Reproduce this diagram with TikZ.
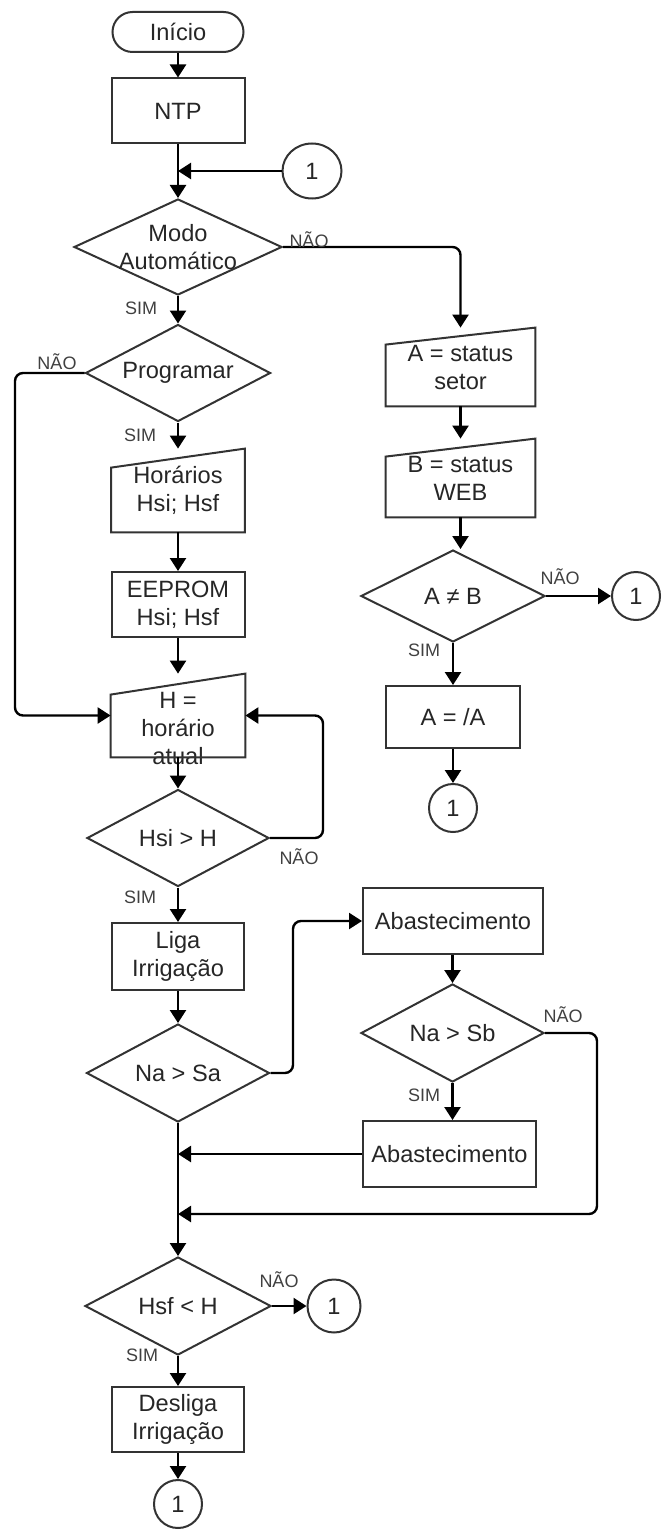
\documentclass[tikz,border=0pt]{standalone}
\usepackage{fontspec}
\setmainfont{Liberation Sans}
\usetikzlibrary{shapes.geometric,arrows.meta}
\newcommand\manualin[2]{\draw[shapeline] (#1.south west) -- (#1.south east) -- (#1.north east) -- ([yshift=-#2]#1.north west) -- cycle;}
\begin{document}
\begin{tikzpicture}[x=0.5pt,y=-0.5pt,
  txt/.style={font=\fontsize{11.8}{14}\selectfont, text=black!85, align=center},
  shapeline/.style={draw=black!80, line width=1pt},
  box/.style={shapeline, rectangle, inner sep=0pt, txt},
  mbox/.style={rectangle, inner sep=0pt, txt},
  dia/.style={shapeline, diamond, inner sep=0pt},
  conn_c/.style={ellipse, shapeline, inner sep=0pt, txt},
  lab/.style={font=\fontsize{9}{10}\selectfont, text=black!75, inner sep=0pt},
  conn/.style={line width=1.2pt, black, rounded corners=4pt, -{Triangle[length=6.5pt,width=8pt]}},
]
\useasboundingbox (0,0) rectangle (661,1530);
% left column
\node[box, rounded corners=10pt, minimum width=65.5pt, minimum height=20pt] (inicio) at (178,32) {Início};
\node[box, minimum width=66.5pt, minimum height=32.5pt] (ntp) at (178,111) {NTP};
\node[conn_c, minimum width=29.5pt, minimum height=27.5pt] (c1) at (312,171) {1};
\node[dia, minimum width=104pt, minimum height=48pt, label={[txt]center:Modo\\Automático}] (modo) at (178,247) {};
\node[dia, minimum width=92.5pt, minimum height=48.5pt, label={[txt]center:Programar}] (prog) at (178,373) {};
\node[mbox, minimum width=66.5pt, minimum height=41.5pt] (hor) at (178,490.5) {Horários\\Hsi; Hsf};
\manualin{hor}{9.5pt}
\node[box, minimum width=66.5pt, minimum height=32.5pt] (eep) at (178,604.5) {EEPROM\\Hsi; Hsf};
\node[mbox, minimum width=67pt, minimum height=41.5pt, label={[txt, yshift=-6.5pt]center:H =\\horário\\atual}] (hh) at (178,715.5) {};
\manualin{hh}{10.5pt}
\node[dia, minimum width=91pt, minimum height=48.5pt, label={[txt]center:Hsi > H}] (hsi) at (178,838) {};
\node[box, minimum width=66pt, minimum height=33.5pt] (liga) at (178,956.5) {Liga\\Irrigação};
\node[dia, minimum width=91.5pt, minimum height=49pt, label={[txt]center:Na > Sa}] (nasa) at (178,1073) {};
\node[dia, minimum width=93pt, minimum height=49pt, label={[txt]center:Hsf < H}] (hsf) at (178,1306) {};
\node[conn_c, minimum width=26.5pt, minimum height=26.5pt] (c2) at (334,1306) {1};
\node[box, minimum width=66pt, minimum height=32.5pt] (desl) at (178,1419.5) {Desliga\\Irrigação};
\node[conn_c, minimum width=24pt, minimum height=24pt] (c3) at (178,1504) {1};
% right column
\node[mbox, minimum width=74.5pt, minimum height=39pt] (aset) at (460.5,367) {A = status\\setor};
\manualin{aset}{8.5pt}
\node[mbox, minimum width=74.5pt, minimum height=39pt] (bweb) at (460.5,478) {B = status\\WEB};
\manualin{bweb}{9pt}
\node[dia, minimum width=92pt, minimum height=46pt, label={[txt]center:A ≠ B}] (anb) at (453,596) {};
\node[conn_c, minimum width=24pt, minimum height=24pt] (c4) at (636,596) {1};
\node[box, minimum width=67pt, minimum height=31pt] (aa) at (453,717) {A = /A};
\node[conn_c, minimum width=24pt, minimum height=24pt] (c5) at (453,808) {1};
\node[box, minimum width=90pt, minimum height=33pt] (ab1) at (453,921) {Abastecimento};
\node[dia, minimum width=91.5pt, minimum height=49pt, label={[txt]center:Na > Sb}] (nasb) at (452.5,1033) {};
\node[box, minimum width=86.5pt, minimum height=33pt] (ab2) at (449.5,1154) {Abastecimento};
% helper coordinates
\coordinate (lft) at (15,0);
\coordinate (rgt) at (323,0);
\coordinate (mid) at (293,0);
\coordinate (far) at (597,1214);
% connectors
\draw[conn] (inicio.south) -- (ntp.north);
\draw[conn] (ntp.south) -- (modo.north);
\draw[conn] (c1.west) -- (c1.west -| ntp.south);
\draw[conn] (modo.east) -| (aset.north);
\draw[conn] (modo.south) -- (prog.north);
\draw[conn] (prog.west) -- (prog.west -| lft) |- (hh.west);
\draw[conn] (prog.south) -- (hor.north);
\draw[conn] (hor.south) -- (eep.north);
\draw[conn] (eep.south) -- (hh.north);
\draw[conn] (hh.south) -- (hsi.north);
\draw[conn] (hsi.east) -- (hsi.east -| rgt) |- (hh.east);
\draw[conn] (hsi.south) -- (liga.north);
\draw[conn] (liga.south) -- (nasa.north);
\draw[conn] (nasa.east) -- (nasa.east -| mid) |- (ab1.west);
\draw[conn] (ab1.south -| nasb.north) -- (nasb.north);
\draw[conn] (nasb.south) -- (nasb.south |- ab2.north);
\draw[conn] (ab2.west) -- (ab2.west -| nasa.south);
\draw[conn] (nasb.east) -| (far) -- (far -| nasa.south);
\draw[conn] (nasa.south) -- (hsf.north);
\draw[conn] (hsf.east) -- (c2.west);
\draw[conn] (hsf.south) -- (desl.north);
\draw[conn] (desl.south) -- (c3.north);
\draw[conn] (aset.south) -- (bweb.north);
\draw[conn] (bweb.south) -- (bweb.south |- anb.north);
\draw[conn] (anb.east) -- (c4.west);
\draw[conn] (anb.south) -- (aa.north);
\draw[conn] (aa.south) -- (c5.north);
% labels
\node[lab] (l1) at (309,240) {NÃO};
\node[lab] (l2) at (141,308) {SIM};
\node[lab] (l3) at (57,362) {NÃO};
\node[lab] (l4) at (140,435) {SIM};
\node[lab] (l5) at (299,857) {NÃO};
\node[lab] (l6) at (140,897) {SIM};
\node[lab] (l7) at (560,577) {NÃO};
\node[lab] (l8) at (424,650) {SIM};
\node[lab] (l9) at (563,1015) {NÃO};
\node[lab] (l10) at (424,1095) {SIM};
\node[lab] (l11) at (279,1280) {NÃO};
\node[lab] (l12) at (142,1355) {SIM};
\end{tikzpicture}
\end{document}
